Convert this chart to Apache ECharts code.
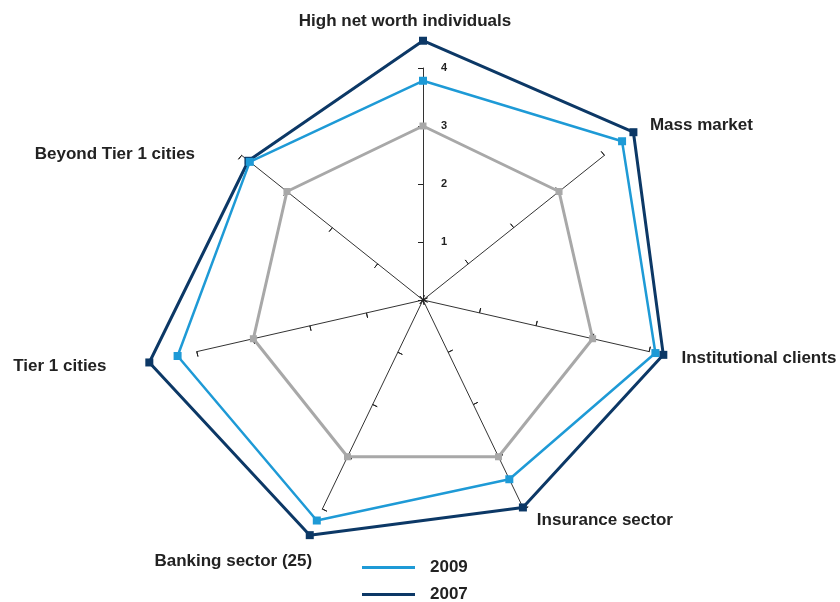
<!DOCTYPE html>
<html>
<head>
<meta charset="utf-8">
<script src="https://cdn.jsdelivr.net/npm/echarts@6/dist/echarts.min.js"></script>
<style>
  html, body { margin: 0; padding: 0; background: #fff; }
  #chart { width: 840px; height: 602px; }
</style>
</head>
<body>
<div id="chart"></div>
<script>
// Segment scores (0–4 scale), listed clockwise from the top
const segments = [
  'High net worth individuals',
  'Mass market',
  'Institutional clients',
  'Insurance sector',
  'Banking sector (25)',
  'Tier 1 cities',
  'Beyond Tier 1 cities'
];
const scores2007 = [4.47, 4.64, 4.25, 3.97, 4.5, 4.84, 3.85];
const scores2009 = [3.78, 4.39, 4.11, 3.43, 4.22, 4.34, 3.82];
const benchmark  = [3.0, 3.0, 3.0, 3.0, 3.0, 3.0, 3.0];
const scaleMax = 4;
const tickLabels = ['1', '2', '3', '4'];

const seriesNames = ['2009', '2007'];
const COL_2009 = '#1e9ad6';
const COL_2007 = '#0c3866';
const COL_BENCH = '#a8a8a8';

// per-axis name placement (gap from axis end, padding around the text), clockwise
const namePlacement = [
  { gap: 38, pad: [0, 36, 0, 0] },
  { gap: 48, pad: [0, 0, 0, 8] },
  { gap: 29, pad: [0, 0, 0, 4] },
  { gap: 12, pad: [0, 0, 0, 8] },
  { gap: 58, pad: [0, -15, 0, 0] },
  { gap: 68, pad: [0, 24, 0, 0] },
  { gap: 2, pad: [0, 45, 0, 0] }
];

// ECharts lays radar indicators out counter-clockwise; walk the list backwards
const order = [0, 6, 5, 4, 3, 2, 1];
const pick = arr => order.map(i => arr[i]);

const indicators = order.map(i => {
  const ind = {
    name: segments[i],
    min: 0,
    max: scaleMax,
    nameGap: namePlacement[i].gap,
    nameTextStyle: { padding: namePlacement[i].pad }
  };
  if (i === 0) ind.axisLabel = { show: true };
  return ind;
});
const plainIndicators = order.map(() => ({ name: '', min: 0, max: scaleMax }));

const center = [423, 300];
const radius = 232;
const FONT = 'Liberation Sans, Arial, sans-serif';

const chart = echarts.init(document.getElementById('chart'), null, { renderer: 'canvas' });
chart.setOption({
  backgroundColor: '#ffffff',
  animation: false,
  legend: {
    data: seriesNames.map(n => ({ name: n, icon: 'rect' })),
    orient: 'vertical',
    left: 362,
    top: 559,
    height: 80,
    padding: 0,
    itemWidth: 53,
    itemHeight: 3,
    itemGap: 10,
    textStyle: { fontFamily: FONT, fontSize: 17, lineHeight: 17, fontWeight: 'bold', color: '#222', padding: [0, 0, 0, 10] }
  },
  radar: [
    {
      center: center,
      radius: radius,
      startAngle: 90,
      splitNumber: 4,
      shape: 'polygon',
      indicator: indicators,
      axisName: {
        color: '#222',
        fontFamily: FONT,
        fontSize: 17,
        fontWeight: 'bold'
      },
      axisLine: { lineStyle: { color: '#333', width: 1 } },
      axisTick: { show: true, length: 5, lineStyle: { color: '#222', width: 1 } },
      axisLabel: {
        show: false,
        margin: -18,
        align: 'left',
        color: '#222',
        fontSize: 11,
        fontWeight: 'bold',
        fontFamily: FONT,
        formatter: v => (v === 0 ? '' : tickLabels[v - 1])
      },
      splitLine: { show: false },
      splitArea: { show: false }
    },
    {
      // second pass draws the opposite half of every tick mark
      center: center,
      radius: radius,
      startAngle: 90,
      splitNumber: 4,
      shape: 'polygon',
      indicator: plainIndicators,
      axisName: { show: false },
      axisLine: { show: false },
      axisTick: { show: true, inside: true, length: 5, lineStyle: { color: '#222', width: 1 } },
      axisLabel: { show: false },
      splitLine: { show: false },
      splitArea: { show: false }
    }
  ],
  series: [
    {
      type: 'radar',
      radarIndex: 0,
      symbol: 'rect',
      symbolSize: 7,
      data: [{
        name: 'benchmark',
        value: pick(benchmark),
        lineStyle: { color: COL_BENCH, width: 3 },
        itemStyle: { color: COL_BENCH }
      }]
    },
    {
      type: 'radar',
      name: '2007',
      radarIndex: 0,
      symbol: 'rect',
      symbolSize: 8,
      color: COL_2007,
      data: [{
        name: '2007',
        value: pick(scores2007),
        lineStyle: { color: COL_2007, width: 3 },
        itemStyle: { color: COL_2007 }
      }]
    },
    {
      type: 'radar',
      name: '2009',
      radarIndex: 0,
      symbol: 'rect',
      symbolSize: 8,
      color: COL_2009,
      data: [{
        name: '2009',
        value: pick(scores2009),
        lineStyle: { color: COL_2009, width: 2.5 },
        itemStyle: { color: COL_2009 }
      }]
    }
  ]
});
</script>
</body>
</html>
